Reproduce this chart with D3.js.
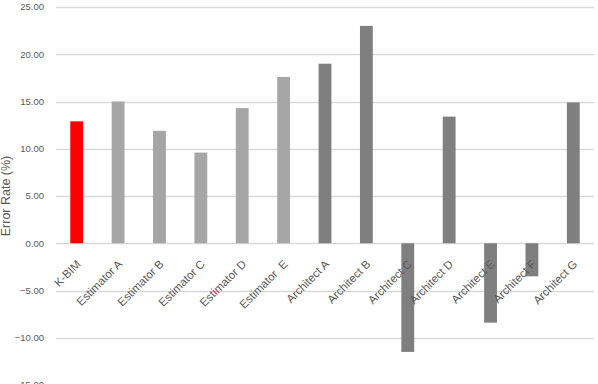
<html>
<head>
<meta charset="utf-8">
<script src="https://d3js.org/d3.v7.min.js"></script>
<style>
  body { margin: 0; background: #fff; }
  text { font-family: "Liberation Sans", Arial, sans-serif; fill: #595959; }
</style>
</head>
<body>
<svg class="chart" width="598" height="384"></svg>
<script>

// chart data
const names = ["K-BIM", "Estimator A", "Estimator B", "Estimator C", "Estimator D", "Estimator  E",
  "Architect A", "Architect B", "Architect C", "Architect D", "Architect E", "Architect F", "Architect G"];
const errorRate = [12.9, 15.0, 11.9, 9.6, 14.3, 17.6, 19.0, 23.0, -11.5, 13.4, -8.4, -3.5, 14.9];
const groups = ["kbim", "est", "est", "est", "est", "est", "arch", "arch", "arch", "arch", "arch", "arch", "arch"];
const yTicks = [-15, -10, -5, 0, 5, 10, 15, 20, 25];
const yTitle = "Error Rate (%)";

const svg = d3.select(".chart");

let x = d3.scaleBand()
    .domain(names)
    .range([56, 594])
    .paddingInner(0.69)
    .paddingOuter(0.345);

let y = d3.scaleLinear()
    .domain([-15, 25])
    .range([385, 7]);

let color = d3.scaleOrdinal()
    .domain(["kbim", "est", "arch"])
    .range(["#ff0000", "#a6a6a6", "#7f7f7f"]);

// gridlines
svg.append("g")
  .selectAll("line")
  .data(yTicks)
  .join("line")
    .attr("x1", 56)
    .attr("x2", 594)
    .attr("y1", d => Math.round(y(d)) + 0.5)
    .attr("y2", d => Math.round(y(d)) + 0.5)
    .attr("stroke", "#d9d9d9")
    .attr("stroke-width", 1.3);

// y tick labels
svg.append("g")
  .selectAll("text")
  .data(yTicks)
  .join("text")
    .attr("x", 44)
    .attr("y", d => y(d))
    .attr("dy", "0.35em")
    .attr("text-anchor", "end")
    .style("font-size", "9.5px")
    .text(d => d3.format(".2f")(d));

// bars
svg.append("g")
  .selectAll("rect")
  .data(errorRate)
  .join("rect")
    .attr("x", (d, i) => x(names[i]))
    .attr("width", x.bandwidth())
    .attr("y", d => y(Math.max(0, d)))
    .attr("height", d => Math.abs(y(d) - y(0)))
    .attr("fill", (d, i) => color(groups[i]));

// category labels, rotated
svg.append("g")
  .selectAll("text")
  .data(names)
  .join("text")
    .attr("transform", d => `translate(${x(d) + x.bandwidth() / 2 + 2},${262}) rotate(-45)`)
    .attr("text-anchor", "end")
    .attr("dy", "0.35em")
    .style("font-size", "11.5px")
    .style("white-space", "pre")
    .text(d => d);

// axis title
svg.append("text")
  .attr("transform", `translate(6,${y(5)}) rotate(-90)`)
  .attr("text-anchor", "middle")
  .attr("dy", "0.35em")
  .style("font-size", "12.5px")
  .text(yTitle);

</script>
</body>
</html>
